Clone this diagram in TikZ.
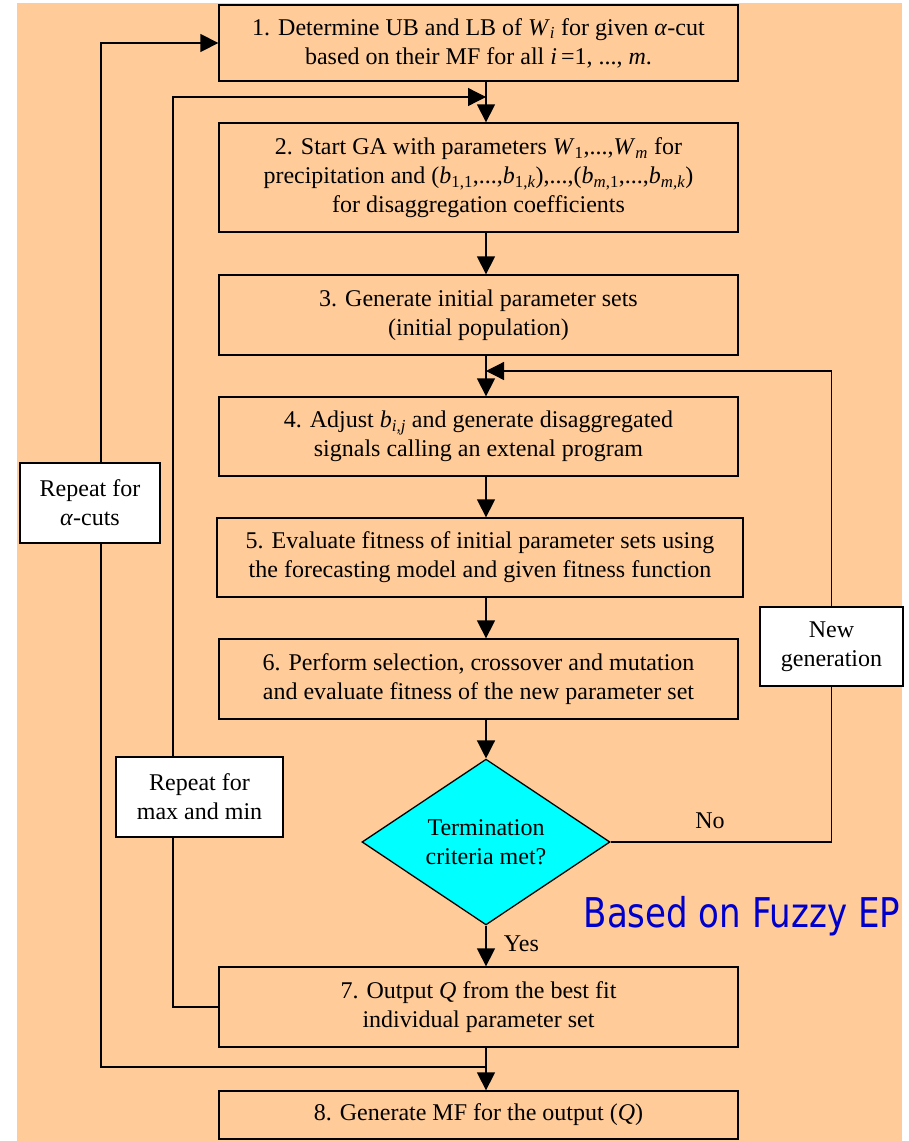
\documentclass[tikz,border=0pt]{standalone}
\usepackage{fontspec}
\setmainfont{Liberation Serif}
\newfontfamily\epfont[FakeStretch=0.83]{DejaVu Sans}
\usetikzlibrary{arrows.meta,shapes.geometric}
\definecolor{peach}{HTML}{FFCC99}
\definecolor{epblue}{HTML}{0000CC}
\definecolor{aqua}{HTML}{00FFFF}
\newcommand{\sbs}[1]{\textsubscript{#1}}
\begin{document}
\begin{tikzpicture}[>={Triangle[length=18pt,width=18pt]},x=1pt,y=1pt,line width=1.3pt]
				\tikzset{boxfont/.style={font=\fontsize{24}{29}\selectfont},
					stepbox/.style={draw,fill=peach,minimum width=519pt,inner sep=0pt,align=center,boxfont},
					notebox/.style={draw,fill=white,inner sep=0pt,align=center,boxfont},
					decide/.style={diamond,draw,fill=aqua,inner sep=0pt,minimum width=248pt,minimum height=161pt,align=center,boxfont}
				}
				\useasboundingbox (0,0) rectangle (908,-1141);
				\fill[white] (0,0) rectangle (908,-1141);
				\fill[peach] (17,-3) rectangle (902,-1141);
				\node[stepbox,minimum height=76pt] (s1) at (478.5,-43) {1. Determine UB and LB of \textit{W}\sbs{\textit{i}} for given \textit{α}-cut\\based on their MF for all \textit{i}\,=1, ..., \textit{m}.};
				\node[stepbox,minimum height=109pt] (s2) at (478.5,-177.5) {2. Start GA with parameters \textit{W}\sbs{1},...,\textit{W}\sbs{\textit{m}} for\\precipitation and (\textit{b}\sbs{1,1},...,\textit{b}\sbs{1,\textit{k}}),...,(\textit{b}\sbs{\textit{m},1},...,\textit{b}\sbs{\textit{m,k}})\\for disaggregation coefficients};
				\node[stepbox,minimum height=80pt] (s3) at (478.5,-315) {3. Generate initial parameter sets\\(initial population)};
				\node[stepbox,minimum height=79pt] (s4) at (478.5,-436.5) {4. Adjust \textit{b}\sbs{\textit{i,j}} and generate disaggregated\\signals calling an extenal program};
				\node[stepbox,minimum width=526pt,minimum height=79pt] (s5) at (480,-557.5) {5. Evaluate fitness of initial parameter sets using\\the forecasting model and given fitness function};
				\node[stepbox,minimum height=80pt] (s6) at (478.5,-679) {6. Perform selection, crossover and mutation\\and evaluate fitness of the new parameter set};
				\node[decide] (stop) at (486,-842) {Termination\\criteria met?};
				\node[stepbox,minimum height=80pt] (s7) at (478.5,-1007) {7. Output \textit{Q} from the best fit\\individual parameter set};
				\node[stepbox,minimum height=48pt] (s8) at (478.5,-1115) {8. Generate MF for the output (\textit{Q})};
				\node[notebox,minimum width=140pt,minimum height=80pt] (rpa) at (90,-503) {Repeat for\\\textit{α}-cuts};
				\node[notebox,minimum width=167pt,minimum height=80pt] (rpm) at (199.5,-797) {Repeat for\\max and min};
				\node[notebox,minimum width=143pt,minimum height=79pt] (ngen) at (831.5,-646.5) {New\\generation};
				\node[anchor=base west,inner sep=0pt,text=epblue,font=\epfont\fontsize{41}{41}\selectfont] (ep) at (583,-927) {Based on Fuzzy EP};
				\coordinate (ax) at (486,0);
				\coordinate (lx) at (101,0);
				\coordinate (mx) at (173,0);
				\coordinate (in2) at (486,-97);
				\coordinate (in4) at (486,-371);
				\coordinate (out7) at (486,-1067);
				\draw[->] (s1.south -| ax) -- (s2.north -| ax);
				\draw[->] (s2.south -| ax) -- (s3.north -| ax);
				\draw[->] (s3.south -| ax) -- (s4.north -| ax);
				\draw[->] (s4.south -| ax) -- (s5.north -| ax);
				\draw[->] (s5.south -| ax) -- (s6.north -| ax);
				\draw[->] (s6.south -| ax) -- (stop.north);
				\draw[->] (stop.south) -- node[right=14pt,pos=.45,boxfont]{Yes} (s7.north -| ax);
				\draw[->] (s7.south -| ax) -- (s8.north -| ax);
				\draw (stop.east) -- node[above=9pt,pos=.45,boxfont]{No} (stop.east -| ngen) -- (ngen.south);
				\draw[->] (ngen.north) |- (in4);
				\draw (s7.west) -| (rpm.south -| mx);
				\draw[->] (rpm.north -| mx) |- (in2);
				\draw (out7) -| (rpa.south -| lx);
				\draw[->] (rpa.north -| lx) |- (s1.west);
				\end{tikzpicture}
\end{document}
